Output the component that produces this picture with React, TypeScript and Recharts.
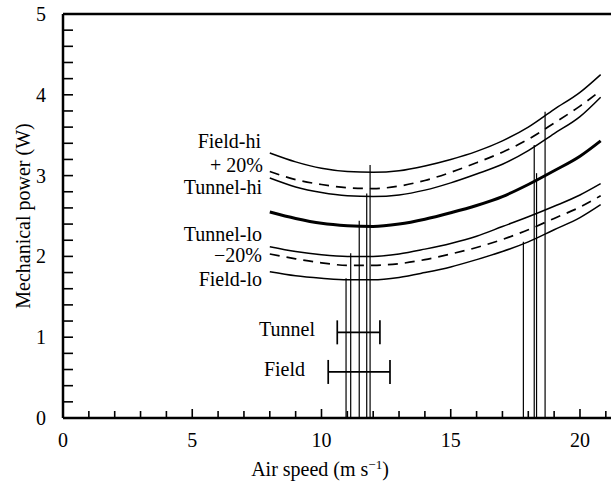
import React from 'react';
import { ComposedChart, Line, Scatter, ErrorBar, XAxis, YAxis, ReferenceLine } from 'recharts';

// air speeds (m/s) where each curve was read
const speeds = [8, 9, 10, 11, 12, 13, 14, 15, 16, 17, 18, 19, 20, 20.8];

// mechanical power (W) at those speeds
const fieldHi = [3.28, 3.17, 3.09, 3.05, 3.04, 3.06, 3.12, 3.2, 3.3, 3.43, 3.6, 3.82, 4.03, 4.25];
const plus20 = [3.05, 2.95, 2.89, 2.85, 2.84, 2.87, 2.94, 3.04, 3.16, 3.29, 3.45, 3.65, 3.86, 4.05];
const tunnelHi = [2.97, 2.86, 2.79, 2.75, 2.74, 2.76, 2.82, 2.91, 3.02, 3.14, 3.31, 3.52, 3.73, 3.97];
const middle = [2.55, 2.47, 2.41, 2.38, 2.37, 2.4, 2.46, 2.54, 2.63, 2.74, 2.89, 3.06, 3.24, 3.43];
const tunnelLo = [2.12, 2.06, 2.02, 2.0, 2.0, 2.03, 2.09, 2.16, 2.25, 2.37, 2.49, 2.62, 2.76, 2.9];
const minus20 = [2.03, 1.97, 1.92, 1.89, 1.89, 1.91, 1.96, 2.03, 2.11, 2.21, 2.33, 2.47, 2.61, 2.75];
const fieldLo = [1.81, 1.76, 1.73, 1.71, 1.71, 1.74, 1.8, 1.87, 1.96, 2.06, 2.18, 2.33, 2.48, 2.64];

// vertical markers: speed and the power where the marker stops
const markerSpeeds = [10.95, 11.13, 11.46, 11.75, 11.88, 17.81, 18.23, 18.32, 18.65];
const markerTops = [1.73, 2.04, 2.44, 2.78, 3.13, 2.18, 3.38, 3.03, 3.79];

// measured speed ranges
const rangeNames = ['Tunnel', 'Field'];
const rangeLow = [10.61, 10.26];
const rangeHigh = [12.26, 12.65];
const rangeLevel = [1.06, 0.57];

const xTicks = [0, 1, 2, 3, 4, 5, 6, 7, 8, 9, 10, 11, 12, 13, 14, 15, 16, 17, 18, 19, 20, 21];
const yTicks = [0, 0.2, 0.4, 0.6, 0.8, 1, 1.2, 1.4, 1.6, 1.8, 2, 2.2, 2.4, 2.6, 2.8, 3, 3.2, 3.4, 3.6, 3.8, 4, 4.2, 4.4, 4.6, 4.8, 5];

const font = "'Liberation Serif', 'Times New Roman', serif";

const toPoints = (vals: number[]) => speeds.map((s, i) => ({ x: s, y: vals[i] }));

const curves = [
  { key: 'fieldHi', vals: fieldHi, width: 1.5, dash: undefined },
  { key: 'plus20', vals: plus20, width: 1.7, dash: '10 7' },
  { key: 'tunnelHi', vals: tunnelHi, width: 1.5, dash: undefined },
  { key: 'middle', vals: middle, width: 3, dash: undefined },
  { key: 'tunnelLo', vals: tunnelLo, width: 1.5, dash: undefined },
  { key: 'minus20', vals: minus20, width: 1.7, dash: '10 7' },
  { key: 'fieldLo', vals: fieldLo, width: 1.5, dash: undefined },
];

const rangeData = rangeNames.map((name, i) => {
  const mid = (rangeLow[i] + rangeHigh[i]) / 2;
  return { name, x: mid, y: rangeLevel[i], err: [mid - rangeLow[i], rangeHigh[i] - mid] };
});

const XTick = (props: any) => {
  const { x, y, payload } = props;
  const v = payload.value;
  const major = v % 5 === 0;
  return (
    <g>
      <line x1={x} x2={x} y1={y} y2={y - (major ? 9 : 7)} stroke="#000" strokeWidth={1.6} />
      {major && (
        <text x={x} y={y + 29} textAnchor="middle" style={{ fontFamily: font, fontSize: 20 }} fill="#000">
          {v}
        </text>
      )}
    </g>
  );
};

const YTick = (props: any) => {
  const { x, y, payload } = props;
  const v = payload.value;
  const major = Math.abs(v - Math.round(v)) < 1e-6;
  return (
    <g>
      <line x1={x} x2={x + 10} y1={y} y2={y} stroke="#000" strokeWidth={1.6} />
      {major && (
        <text x={x - 17} y={y + 7} textAnchor="end" style={{ fontFamily: font, fontSize: 20 }} fill="#000">
          {Math.round(v)}
        </text>
      )}
    </g>
  );
};

const labelStyle = { fontFamily: font, fontSize: 20, fill: '#000' };

export default function App() {
  return (
    <div style={{ position: 'absolute', left: 0, top: 0, width: 611, height: 487, background: '#fff' }}>
      <ComposedChart width={611} height={487} margin={{ top: 14, right: 0, bottom: 0, left: 0 }}>
        <XAxis
          type="number"
          dataKey="x"
          domain={[0, 21.2]}
          ticks={xTicks}
          interval={0}
          allowDataOverflow
          height={69}
          tickSize={0}
          tickMargin={0}
          tickLine={false}
          tick={<XTick />}
          axisLine={{ stroke: '#000', strokeWidth: 2.5 }}
        />
        <YAxis
          type="number"
          dataKey="y"
          domain={[0, 5]}
          ticks={yTicks}
          interval={0}
          width={63}
          tickSize={0}
          tickMargin={0}
          tickLine={false}
          tick={<YTick />}
          axisLine={{ stroke: '#000', strokeWidth: 2.5 }}
        />
        <ReferenceLine y={5} stroke="#000" strokeWidth={2.5} />
        {curves.map((c) => (
          <Line
            key={c.key}
            data={toPoints(c.vals)}
            dataKey="y"
            type="monotone"
            stroke="#000"
            strokeWidth={c.width}
            strokeDasharray={c.dash}
            dot={false}
            activeDot={false}
            isAnimationActive={false}
          />
        ))}
        {markerSpeeds.map((s, i) => (
          <Line
            key={'m' + i}
            data={[{ x: s, y: 0 }, { x: s, y: markerTops[i] }]}
            dataKey="y"
            type="linear"
            stroke="#000"
            strokeWidth={1.2}
            dot={false}
            activeDot={false}
            isAnimationActive={false}
          />
        ))}
        <Scatter data={rangeData} dataKey="y" shape={() => <g />} isAnimationActive={false}>
          <ErrorBar dataKey="err" direction="x" width={12} stroke="#000" strokeWidth={1.7} />
        </Scatter>
      </ComposedChart>
      <svg width={611} height={487} style={{ position: 'absolute', left: 0, top: 0, pointerEvents: 'none' }}>
        <g style={labelStyle}>
          <text x={261} y={148} textAnchor="end">Field-hi</text>
          <text x={263} y={172} textAnchor="end">+ 20%</text>
          <text x={262} y={194} textAnchor="end">Tunnel-hi</text>
          <text x={262} y={241} textAnchor="end">Tunnel-lo</text>
          <text x={262} y={262} textAnchor="end">−20%</text>
          <text x={262} y={286} textAnchor="end">Field-lo</text>
          <text x={315} y={336} textAnchor="end">Tunnel</text>
          <text x={305} y={376} textAnchor="end">Field</text>
          <text x={320} y={476} textAnchor="middle">
            Air speed (m s<tspan dy={-7} fontSize={13}>−1</tspan><tspan dy={7}>)</tspan>
          </text>
          <text x={30} y={216} textAnchor="middle" transform="rotate(-90, 30, 216)">
            Mechanical power (W)
          </text>
        </g>
      </svg>
    </div>
  );
}
